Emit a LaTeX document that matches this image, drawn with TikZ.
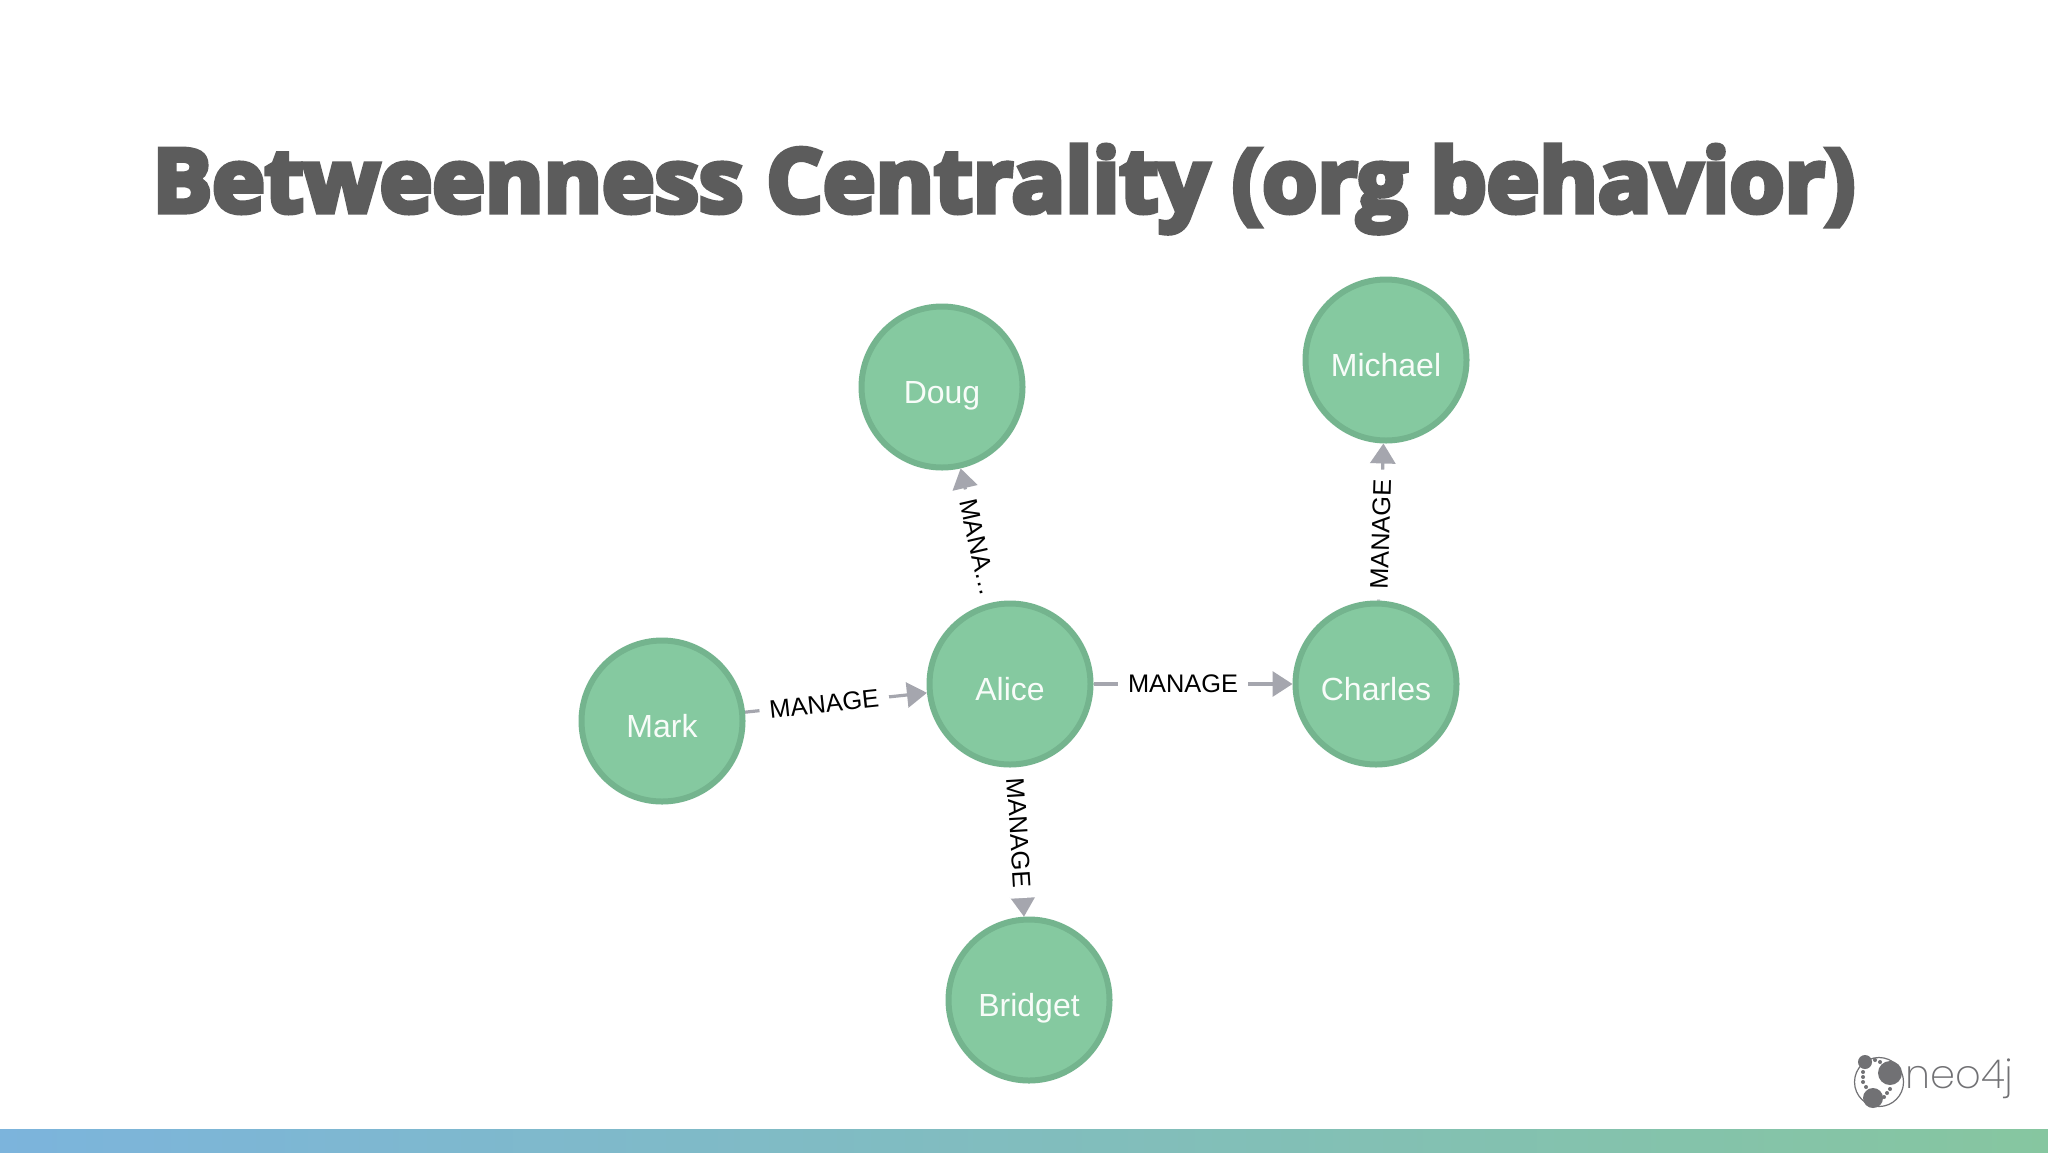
\documentclass[tikz,border=0pt]{standalone}
\usepackage{fontspec}
\usetikzlibrary{arrows.meta}
\setmainfont{Liberation Sans}
\newfontfamily\titlefont[FakeBold=6,FakeStretch=1.012]{Open Sans Bold}
\newfontfamily\logofont{Poppins ExtraLight}
\definecolor{nodefill}{HTML}{85C9A0}
\definecolor{nodeedge}{HTML}{74B48E}
\definecolor{edgegray}{HTML}{A5A6AE}
\definecolor{titlegray}{HTML}{5C5C5C}
\definecolor{logogray}{HTML}{717174}
\definecolor{barblue}{HTML}{7CB4DC}
\definecolor{bargreen}{HTML}{86C6A0}
\pgfdeclarelayer{edges}
\pgfdeclarelayer{top}
\pgfsetlayers{main,edges,top}
\tikzset{
  person/.style={circle,draw=nodeedge,fill=nodefill,line width=3pt,minimum size=80.5pt,inner sep=0pt,
    text=white!94!nodefill,font=\fontsize{16}{18}\selectfont,text height=16.4pt,text depth=0pt},
  rel/.style={draw=edgegray,line width=1.6pt,-{Triangle[length=10pt,width=12.5pt]}},
  rellabel/.style={sloped,fill=white,text=black,inner xsep=5pt,inner ysep=2pt,font=\fontsize{12.7}{14}\selectfont},
}
\begin{document}
\begin{tikzpicture}[x=0.5pt,y=-0.5pt]
\useasboundingbox[fill=white] (0,0) rectangle (2048,1152);
\shade[left color=barblue,right color=bargreen,draw=none] (0,1129) rectangle (2048,1152);
\node[anchor=base west,inner sep=0pt,text=titlegray,font=\titlefont\fontsize{44}{50}\selectfont] (title) at (152,212) {Betweenness Centrality (org behavior)};
\begin{pgfonlayer}{top}
\node[person] (doug) at (942,387) {Doug};
\node[person] (michael) at (1386,360) {Michael};
\node[person] (alice) at (1010,684) {Alice};
\node[person] (charles) at (1376,684) {Charles};
\node[person] (mark) at (662,721) {Mark};
\node[person] (bridget) at (1029,1000) {Bridget};
\end{pgfonlayer}
\begin{pgfonlayer}{edges}
\draw[rel] (mark) -- node[rellabel,pos=.435] {MANAGE} (alice);
\draw[rel] (alice) -- node[rellabel,pos=.45] {MANAGE} (charles);
\draw[rel] (alice) -- node[rellabel,pos=.39] {MANA…\hspace*{3pt}} (doug);
\draw[rel] (charles) -- node[rellabel,pos=.42] {MANAGE} (michael);
\draw[rel] (alice) -- node[rellabel,pos=.42] {\hspace*{3pt}MANAGE} (bridget);
\end{pgfonlayer}
% logo
\draw[logogray,line width=0.6pt] (1879,1082) circle (24.5);
\fill[logogray] (1890,1073) circle (12) (1865,1062) circle (7) (1873,1098) circle (10);
\foreach \px/\py in {1875/1060,1880/1062,1863/1072,1863/1077,1863/1082,1866/1087,1890/1089,1887/1093,1884/1097}{\fill[logogray] (\px,\py) circle (2);}
\node[anchor=base west,inner sep=0pt,text=logogray,font=\logofont\fontsize{20}{24}\selectfont] (logo) at (1905,1088) {neo4j};
\end{tikzpicture}
\end{document}
